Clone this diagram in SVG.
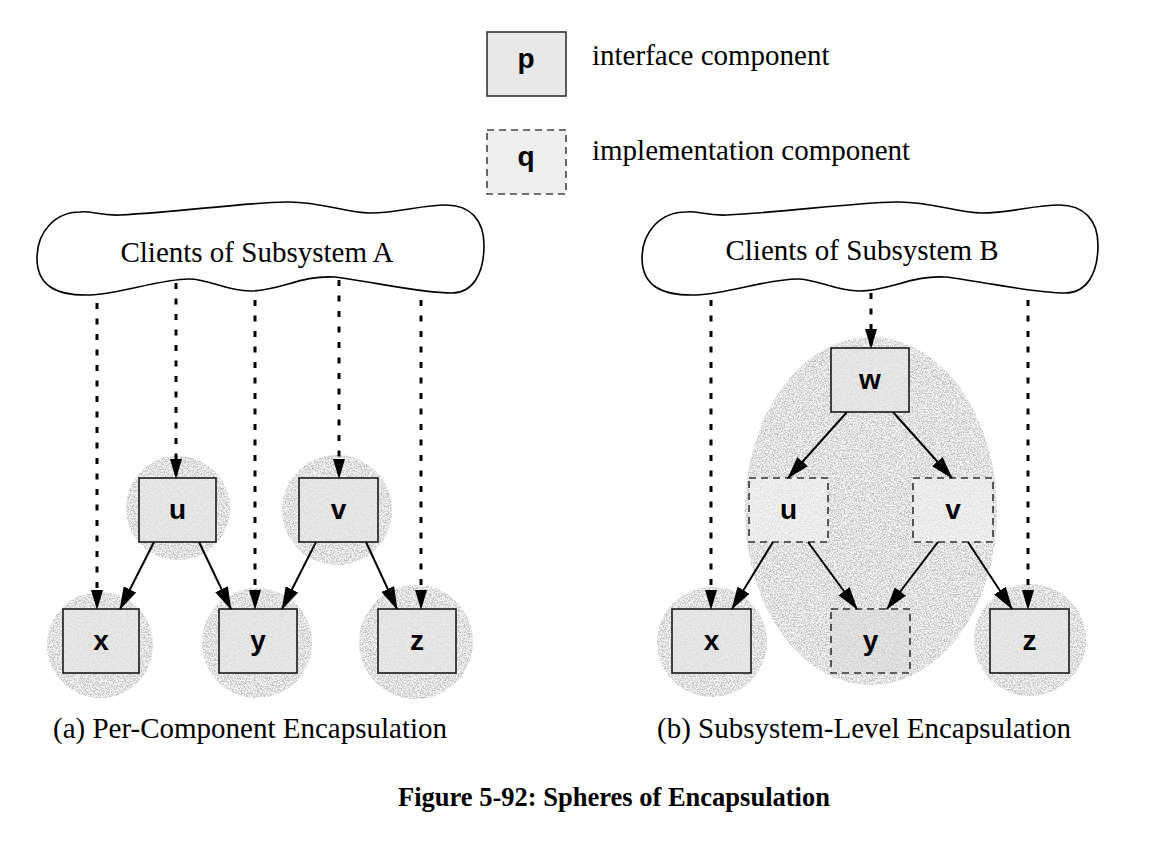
<svg xmlns="http://www.w3.org/2000/svg" width="1174" height="849" viewBox="0 0 1174 849">
<defs>
<filter id="stip" x="-5%" y="-5%" width="110%" height="110%">
 <feTurbulence type="fractalNoise" baseFrequency="0.75" numOctaves="2" seed="7" result="noise"/>
 <feColorMatrix in="noise" type="matrix" values="0 0 0 0 0  0 0 0 0 0  0 0 0 0 0  3.2 0 0 0 -1.15" result="m"/>
 <feComposite in="SourceGraphic" in2="m" operator="in"/>
</filter>
<marker id="hd" markerUnits="userSpaceOnUse" markerWidth="20" markerHeight="12" refX="19" refY="6" orient="auto">
 <path d="M0,0 L20,6 L0,12 Z" fill="#000"/>
</marker>
<marker id="hs" markerUnits="userSpaceOnUse" markerWidth="23" markerHeight="14" refX="22" refY="7" orient="auto">
 <path d="M0,0 L23,7 L0,14 Z" fill="#000"/>
</marker>
<path id="cloud" d="M80,212 C90,210 100,216 120,215 C180,212 240,203 286,202 C320,201 345,213 370,213 C400,213 420,205 446,205 C470,205 484,220 484,245 C484,275 472,293 452,293 C420,293 380,283 335,277 C300,275 280,291 250,291 C225,291 210,279 189,279 C160,279 120,294 90,295 C55,296 37,285 37,258 C37,232 55,212 80,212 Z"/>
</defs>
<style>
.sph{fill:#bdbdbd;filter:url(#stip)}
.box{fill:#e6e6e6;fill-opacity:0.7;stroke:#1a1a1a;stroke-width:1.6}
.dbox{fill:#f4f4f4;fill-opacity:0.6;stroke:#333;stroke-width:1.6;stroke-dasharray:7 5}
.lbl{font-family:"Liberation Sans",Arial,sans-serif;font-weight:bold;font-size:28px;text-anchor:middle;fill:#000}
.txt{font-family:"Liberation Serif","Times New Roman",serif;fill:#000}
.cl{fill:#fff;stroke:#000;stroke-width:1.6}
.dl{fill:none;stroke:#000;stroke-width:3;stroke-dasharray:6 9.5;marker-end:url(#hd)}
.sl{fill:none;stroke:#000;stroke-width:2;marker-end:url(#hs)}
</style>
<rect width="1174" height="849" fill="#fff"/>

<!-- legend -->
<g id="legend-p">
 <rect x="487" y="32" width="79" height="64" fill="#e8e8e8" stroke="#333" stroke-width="1.6"/>
 <text class="lbl" x="526" y="68">p</text>
 <text class="txt" x="592" y="65" font-size="29">interface component</text>
</g>
<g id="legend-q">
 <rect x="487" y="130" width="79" height="64" fill="#eeeeee" stroke="#444" stroke-width="1.6" stroke-dasharray="7 5"/>
 <text class="lbl" x="526" y="166">q</text>
 <text class="txt" x="592" y="160" font-size="29">implementation component</text>
</g>

<!-- spheres -->
<g id="spheres">
 <circle class="sph" cx="178" cy="508" r="52"/>
 <circle class="sph" cx="337" cy="510" r="55"/>
 <circle class="sph" cx="100" cy="645" r="53"/>
 <circle class="sph" cx="257" cy="643" r="55"/>
 <circle class="sph" cx="416" cy="642" r="57"/>
 <ellipse class="sph" cx="871" cy="511" rx="126" ry="174"/>
 <circle class="sph" cx="712" cy="642" r="55"/>
 <circle class="sph" cx="1030" cy="640" r="56"/>
</g>

<!-- clouds -->
<g id="cloudA">
 <use href="#cloud" class="cl"/>
 <text class="txt" x="257" y="262" font-size="29" text-anchor="middle">Clients of Subsystem A</text>
</g>
<g id="cloudB">
 <use href="#cloud" class="cl" transform="matrix(1.02,0,0,1,604.3,0)"/>
 <text class="txt" x="862" y="260" font-size="29" text-anchor="middle">Clients of Subsystem B</text>
</g>

<!-- nodes A -->
<g id="A-u"><rect class="box" x="139" y="478" width="77" height="64"/><text class="lbl" x="177.5" y="519">u</text></g>
<g id="A-v"><rect class="box" x="299" y="478" width="79" height="64"/><text class="lbl" x="338.5" y="519">v</text></g>
<g id="A-x"><rect class="box" x="63" y="609" width="76" height="64"/><text class="lbl" x="101" y="650">x</text></g>
<g id="A-y"><rect class="box" x="219" y="609" width="78" height="64"/><text class="lbl" x="258" y="650">y</text></g>
<g id="A-z"><rect class="box" x="378" y="609" width="78" height="64"/><text class="lbl" x="417" y="650">z</text></g>

<!-- nodes B -->
<g id="B-w"><rect class="box" x="831" y="348" width="78" height="64"/><text class="lbl" x="870" y="389">w</text></g>
<g id="B-u"><rect class="dbox" x="749" y="478" width="79" height="64"/><text class="lbl" x="788.5" y="519">u</text></g>
<g id="B-v"><rect class="dbox" x="913" y="478" width="80" height="64"/><text class="lbl" x="953" y="519">v</text></g>
<g id="B-x"><rect class="box" x="672" y="609" width="79" height="64"/><text class="lbl" x="711.5" y="650">x</text></g>
<g id="B-y"><rect class="dbox" x="831" y="609" width="79" height="64" style="fill:#dadada;fill-opacity:0.5"/><text class="lbl" x="870.5" y="650">y</text></g>
<g id="B-z"><rect class="box" x="990" y="609" width="79" height="64"/><text class="lbl" x="1029.5" y="650">z</text></g>

<!-- connectors -->
<g id="connectors">
 <line class="dl" x1="97" y1="303" x2="97" y2="609"/>
 <line class="dl" x1="176" y1="283" x2="176" y2="478"/>
 <line class="dl" x1="255" y1="300" x2="255" y2="609"/>
 <line class="dl" x1="339" y1="280" x2="339" y2="478"/>
 <line class="dl" x1="421" y1="300" x2="421" y2="609"/>
 <line class="sl" x1="154" y1="542" x2="120" y2="609"/>
 <line class="sl" x1="199" y1="542" x2="231" y2="609"/>
 <line class="sl" x1="316" y1="542" x2="282" y2="609"/>
 <line class="sl" x1="366" y1="542" x2="397" y2="609"/>

 <line class="dl" x1="711" y1="300" x2="711" y2="609"/>
 <line class="dl" x1="871" y1="293" x2="871" y2="348"/>
 <line class="dl" x1="1028" y1="300" x2="1028" y2="609"/>
 <line class="sl" x1="847" y1="412" x2="788" y2="478"/>
 <line class="sl" x1="893" y1="412" x2="952" y2="478"/>
 <line class="sl" x1="773" y1="542" x2="732" y2="609"/>
 <line class="sl" x1="808" y1="542" x2="857" y2="609"/>
 <line class="sl" x1="938" y1="542" x2="887" y2="609"/>
 <line class="sl" x1="968" y1="542" x2="1012" y2="609"/>
</g>

<!-- captions -->
<text class="txt" x="250" y="738" font-size="29" text-anchor="middle">(a) Per-Component Encapsulation</text>
<text class="txt" x="864" y="738" font-size="29" text-anchor="middle">(b) Subsystem-Level Encapsulation</text>
<text class="txt" x="614" y="806" font-size="26.5" font-weight="bold" text-anchor="middle">Figure 5-92: Spheres of Encapsulation</text>
</svg>
